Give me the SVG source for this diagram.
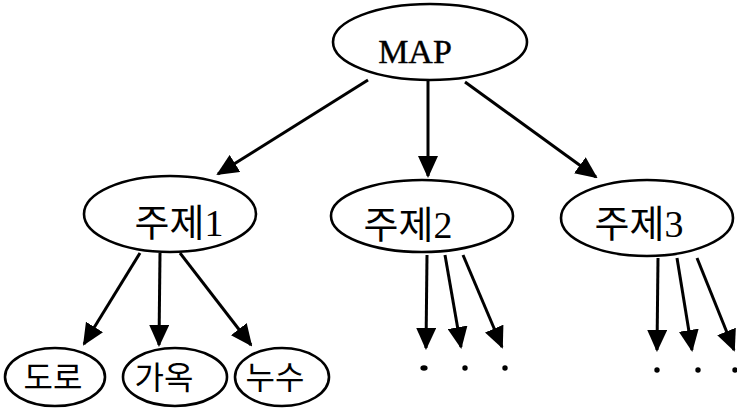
<svg xmlns="http://www.w3.org/2000/svg" width="737" height="408" viewBox="0 0 737 408">
  <style>
    .node { fill: #ffffff; stroke: #000000; stroke-width: 2.6; }
    .label { fill: #000000; font-family: "Liberation Serif", "Noto Sans CJK KR", serif; text-anchor: middle; }
    .big { font-size: 38px; }
    .small { font-size: 32px; }
    .title { font-size: 34px; stroke: #000000; stroke-width: 0.4; }
    .edge { stroke: #000000; stroke-width: 3; fill: none; marker-end: url(#arrow); }
    .dot { fill: #000000; }
  </style>
  <defs>
    <marker id="arrow" markerUnits="userSpaceOnUse" markerWidth="22" markerHeight="20" refX="20" refY="10" orient="auto">
      <path d="M0,0 L22,10 L0,20 Z" fill="#000000"/>
    </marker>
  </defs>

  <g id="connectors">
    <!-- MAP to topics -->
    <line class="edge" x1="368" y1="80" x2="218" y2="174"/>
    <line class="edge" x1="428" y1="80" x2="428" y2="176"/>
    <line class="edge" x1="465" y1="82" x2="596" y2="177"/>
    <!-- topic 1 to its layers -->
    <line class="edge" x1="140" y1="253" x2="84" y2="344"/>
    <line class="edge" x1="160" y1="253" x2="159" y2="345"/>
    <line class="edge" x1="180" y1="253" x2="251" y2="345"/>
    <!-- topic 2 fan-out -->
    <line class="edge" x1="427" y1="255" x2="426" y2="348"/>
    <line class="edge" x1="445" y1="255" x2="461" y2="347"/>
    <line class="edge" x1="463" y1="255" x2="502" y2="347"/>
    <!-- topic 3 fan-out -->
    <line class="edge" x1="658" y1="258" x2="657" y2="350"/>
    <line class="edge" x1="677" y1="258" x2="692" y2="350"/>
    <line class="edge" x1="697" y1="258" x2="734" y2="350"/>
  </g>

  <g id="map">
    <ellipse class="node" cx="430" cy="42" rx="97" ry="38"/>
    <text class="label title" x="415" y="63">MAP</text>
  </g>

  <g id="topic1">
    <ellipse class="node" cx="170" cy="214" rx="86" ry="38"/>
    <text class="label big" x="179" y="236">주제1</text>
  </g>

  <g id="topic2">
    <ellipse class="node" cx="422" cy="216" rx="91" ry="36"/>
    <text class="label big" x="408" y="238">주제2</text>
  </g>

  <g id="topic3">
    <ellipse class="node" cx="647" cy="218" rx="86" ry="38"/>
    <text class="label big" x="639" y="237">주제3</text>
  </g>

  <g id="road">
    <ellipse class="node" cx="55" cy="377" rx="50" ry="29"/>
    <text class="label small" x="53" y="389">도로</text>
  </g>

  <g id="building">
    <ellipse class="node" cx="175" cy="377" rx="52" ry="29"/>
    <text class="label small" x="164" y="389">가옥</text>
  </g>

  <g id="leak">
    <ellipse class="node" cx="282" cy="377" rx="47" ry="29"/>
    <text class="label small" x="275" y="389">누수</text>
  </g>

  <g id="more2">
    <ellipse class="dot" cx="424" cy="368" rx="3.6" ry="2.8"/>
    <circle class="dot" cx="465" cy="368" r="2.7"/>
    <circle class="dot" cx="505" cy="368" r="2.7"/>
  </g>

  <g id="more3">
    <circle class="dot" cx="657" cy="370" r="2.7"/>
    <circle class="dot" cx="698" cy="370" r="2.7"/>
    <circle class="dot" cx="735" cy="370" r="2.7"/>
  </g>
</svg>
